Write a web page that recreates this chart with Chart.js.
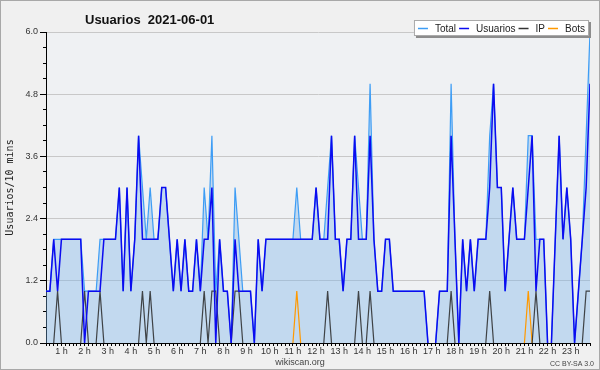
<!DOCTYPE html>
<html>
<head>
<meta charset="utf-8">
<title>Usuarios 2021-06-01</title>
<script src="https://cdn.jsdelivr.net/npm/chart.js@4.4.0/dist/chart.umd.min.js"></script>
<style>
  html, body { margin: 0; padding: 0; background: #f0f0f0; }
  #wrap { width: 600px; height: 370px; }
</style>
</head>
<body>
<div id="wrap"><canvas id="chart" width="600" height="370"></canvas></div>
<script>
// one slot = 10 minutes, the first point is 00:20
const FIRST_SLOT = 2;

const chartTitle = 'Usuarios  2021-06-01';
const yTitle = 'Usuarios/10 mins';
const seriesNames = ['Total', 'Usuarios', 'IP', 'Bots'];
const hourLabels = ['1 h', '2 h', '3 h', '4 h', '5 h', '6 h', '7 h', '8 h', '9 h', '10 h', '11 h', '12 h',
  '13 h', '14 h', '15 h', '16 h', '17 h', '18 h', '19 h', '20 h', '21 h', '22 h', '23 h'];
const yTickLabels = ['0.0', '1.2', '2.4', '3.6', '4.8', '6.0'];

// values per 10 minutes, one row per hour
const total = [
  1, 1, 2, 2,
  2, 2, 2, 2, 2, 2,
  1, 1, 1, 1, 2, 2,
  2, 2, 2, 3, 1, 3,
  1, 2, 4, 3, 2, 3,
  2, 2, 3, 3, 2, 1,
  2, 1, 2, 1, 1, 2,
  1, 3, 2, 4, 1, 2,
  1, 1, 0, 3, 2, 1,
  1, 1, 0, 2, 1, 2,
  2, 2, 2, 2, 2, 2,
  2, 3, 2, 2, 2, 2,
  3, 2, 2, 3, 4, 2,
  2, 1, 2, 2, 4, 3,
  2, 2, 5, 2, 1, 1,
  2, 2, 1, 1, 1, 1,
  1, 1, 1, 1, 1, 0,
  0, 0, 1, 1, 1, 5,
  2, 0, 2, 1, 2, 1,
  2, 2, 2, 4, 5, 3,
  3, 1, 2, 3, 2, 2,
  2, 4, 4, 2, 2, 2,
  0, 0, 2, 4, 2, 3,
  2, 0, 1, 2, 4, 6
];
const usuarios = [
  1, 1, 2, 1,
  2, 2, 2, 2, 2, 2,
  0, 1, 1, 1, 1, 2,
  2, 2, 2, 3, 1, 3,
  1, 2, 4, 2, 2, 2,
  2, 2, 3, 3, 2, 1,
  2, 1, 2, 1, 1, 2,
  1, 2, 2, 3, 0, 2,
  1, 1, 0, 2, 1, 1,
  1, 1, 0, 2, 1, 2,
  2, 2, 2, 2, 2, 2,
  2, 2, 2, 2, 2, 2,
  3, 2, 2, 2, 4, 2,
  2, 1, 2, 2, 4, 2,
  2, 2, 4, 2, 1, 1,
  2, 2, 1, 1, 1, 1,
  1, 1, 1, 1, 1, 0,
  0, 0, 1, 1, 1, 4,
  2, 0, 2, 1, 2, 1,
  2, 2, 2, 3, 5, 3,
  3, 1, 2, 3, 2, 2,
  2, 3, 4, 1, 2, 2,
  0, 0, 2, 4, 2, 3,
  2, 0, 1, 2, 3, 5
];
const ip = [
  0, 0, 0, 1,
  0, 0, 0, 0, 0, 0,
  1, 0, 0, 0, 1, 0,
  0, 0, 0, 0, 0, 0,
  0, 0, 0, 1, 0, 1,
  0, 0, 0, 0, 0, 0,
  0, 0, 0, 0, 0, 0,
  0, 1, 0, 1, 1, 0,
  0, 0, 0, 1, 1, 0,
  0, 0, 0, 0, 0, 0,
  0, 0, 0, 0, 0, 0,
  0, 0, 0, 0, 0, 0,
  0, 0, 0, 1, 0, 0,
  0, 0, 0, 0, 0, 1,
  0, 0, 1, 0, 0, 0,
  0, 0, 0, 0, 0, 0,
  0, 0, 0, 0, 0, 0,
  0, 0, 0, 0, 0, 1,
  0, 0, 0, 0, 0, 0,
  0, 0, 0, 1, 0, 0,
  0, 0, 0, 0, 0, 0,
  0, 0, 0, 1, 0, 0,
  0, 0, 0, 0, 0, 0,
  0, 0, 0, 0, 1, 1
];
const bots = [
  0, 0, 0, 0,
  0, 0, 0, 0, 0, 0,
  0, 0, 0, 0, 0, 0,
  0, 0, 0, 0, 0, 0,
  0, 0, 0, 0, 0, 0,
  0, 0, 0, 0, 0, 0,
  0, 0, 0, 0, 0, 0,
  0, 0, 0, 0, 0, 0,
  0, 0, 0, 0, 0, 0,
  0, 0, 0, 0, 0, 0,
  0, 0, 0, 0, 0, 0,
  0, 1, 0, 0, 0, 0,
  0, 0, 0, 0, 0, 0,
  0, 0, 0, 0, 0, 0,
  0, 0, 0, 0, 0, 0,
  0, 0, 0, 0, 0, 0,
  0, 0, 0, 0, 0, 0,
  0, 0, 0, 0, 0, 0,
  0, 0, 0, 0, 0, 0,
  0, 0, 0, 0, 0, 0,
  0, 0, 0, 0, 0, 0,
  0, 1, 0, 0, 0, 0,
  0, 0, 0, 0, 0, 0,
  0, 0, 0, 0, 0, 0
];

const COLORS = {
  total: '#3d9df5',
  fill: 'rgba(120, 180, 235, 0.38)',
  usuarios: '#0b0bf0',
  ip: 'rgba(40, 40, 40, 0.85)',
  bots: '#ff9900',
  grid: '#c8c8c8',
  text: '#333'
};
const FONT = 'Liberation Sans, Arial, sans-serif';

function toPoints(arr) {
  return arr.map((v, i) => ({ x: FIRST_SLOT + i, y: v }));
}

// hide the flat segments on the zero line, the x axis is drawn there
const hideZero = ctx => (ctx.p0.parsed.y === 0 && ctx.p1.parsed.y === 0) ? 'rgba(0,0,0,0)' : undefined;

function lineDataset(label, data, color, width, order, extra) {
  return Object.assign({
    label: label,
    data: toPoints(data),
    borderColor: color,
    borderWidth: width,
    pointRadius: 0,
    tension: 0,
    fill: false,
    order: order,
    segment: { borderColor: hideZero }
  }, extra || {});
}

const decor = {
  id: 'decor',
  beforeDraw(chart) {
    const { ctx, chartArea: a } = chart;
    ctx.save();
    ctx.fillStyle = '#f0f0f0';
    ctx.fillRect(0, 0, chart.width, chart.height);
    ctx.fillStyle = '#eff1f3';
    ctx.fillRect(a.left, a.top, a.right - a.left, a.bottom - a.top);
    ctx.restore();
  },
  afterDraw(chart) {
    const { ctx } = chart;
    ctx.save();

    // title
    ctx.fillStyle = '#111';
    ctx.font = 'bold 13px ' + FONT;
    ctx.textAlign = 'left';
    ctx.textBaseline = 'alphabetic';
    ctx.fillText(chartTitle, 85, 24);

    // legend box, top right
    const colors = [COLORS.total, COLORS.usuarios, '#333', COLORS.bots];
    ctx.font = '10px ' + FONT;
    const widths = seriesNames.map(n => ctx.measureText(n).width);
    const boxW = 4 + widths.reduce((s, w) => s + w + 20, 0) + 1;
    const boxR = 589, boxT = 20, boxH = 16;
    const boxL = boxR - boxW;
    ctx.fillStyle = '#8c8c8c';
    ctx.fillRect(boxL + 2, boxT + 2, boxW, boxH);
    ctx.fillStyle = '#fff';
    ctx.fillRect(boxL, boxT, boxW, boxH);
    ctx.strokeStyle = '#aaa';
    ctx.lineWidth = 1;
    ctx.strokeRect(boxL + 0.5, boxT + 0.5, boxW - 1, boxH - 1);
    let x = boxL + 4;
    seriesNames.forEach((name, i) => {
      ctx.strokeStyle = colors[i];
      ctx.lineWidth = 1.5;
      ctx.beginPath();
      ctx.moveTo(x, boxT + 8.5);
      ctx.lineTo(x + 10, boxT + 8.5);
      ctx.stroke();
      ctx.fillStyle = '#222';
      ctx.fillText(name, x + 17, boxT + 12);
      x += widths[i] + 20;
    });

    // footer
    ctx.fillStyle = '#444';
    ctx.font = '9px ' + FONT;
    ctx.textAlign = 'center';
    ctx.fillText('wikiscan.org', 300, 365);
    ctx.font = '7px ' + FONT;
    ctx.textAlign = 'right';
    ctx.fillText('CC BY-SA 3.0', 594, 366);

    // frame
    ctx.strokeStyle = '#a8a8a8';
    ctx.lineWidth = 1;
    ctx.strokeRect(0.5, 0.5, chart.width - 1, chart.height - 1);
    ctx.restore();
  }
};

new Chart(document.getElementById('chart'), {
  type: 'line',
  data: {
    datasets: [
      lineDataset(seriesNames[1], usuarios, COLORS.usuarios, 1.5, 0),
      lineDataset(seriesNames[2], ip, COLORS.ip, 1.2, 1),
      lineDataset(seriesNames[3], bots, COLORS.bots, 1.2, 2),
      lineDataset(seriesNames[0], total, COLORS.total, 1.2, 3, {
        fill: 'origin',
        backgroundColor: COLORS.fill
      })
    ]
  },
  options: {
    responsive: false,
    animation: false,
    devicePixelRatio: 1,
    layout: { padding: { top: 32, right: 10, bottom: 0, left: 0 } },
    plugins: {
      legend: { display: false },
      tooltip: { enabled: false },
      title: { display: false }
    },
    scales: {
      x: {
        type: 'linear',
        min: FIRST_SLOT,
        max: FIRST_SLOT + usuarios.length - 1,
        z: 1,
        afterFit: s => { s.height = 27; },
        ticks: {
          stepSize: 1,
          autoSkip: false,
          maxRotation: 0,
          minRotation: 0,
          padding: 0,
          color: COLORS.text,
          font: { family: FONT, size: 9 },
          callback: v => (v % 6 === 0 && hourLabels[v / 6 - 1]) ? hourLabels[v / 6 - 1] : ''
        },
        grid: { drawOnChartArea: false, color: '#000', tickLength: 3 },
        border: { color: '#000', width: 1 }
      },
      y: {
        type: 'linear',
        position: 'left',
        weight: 1,
        min: 0,
        max: 6,
        afterFit: s => { s.width = 46; },
        ticks: {
          stepSize: 1.2,
          padding: 2,
          color: COLORS.text,
          font: { family: FONT, size: 9 },
          callback: (v, i) => yTickLabels[i]
        },
        grid: { color: COLORS.grid, tickColor: '#000', tickLength: 6 },
        border: { color: '#000', width: 1 },
        title: {
          display: true,
          text: yTitle,
          color: '#222',
          font: { family: 'DejaVu Sans Mono', size: 10 },
          padding: { top: 4, bottom: 0 }
        }
      },
      yMinor: {
        type: 'linear',
        position: 'left',
        weight: 0,
        min: 0,
        max: 6,
        afterFit: s => { s.width = 0; },
        ticks: { stepSize: 0.3, display: false },
        grid: { drawOnChartArea: false, tickColor: '#000', tickLength: 3 },
        border: { display: false }
      }
    }
  },
  plugins: [decor]
});
</script>
</body>
</html>
